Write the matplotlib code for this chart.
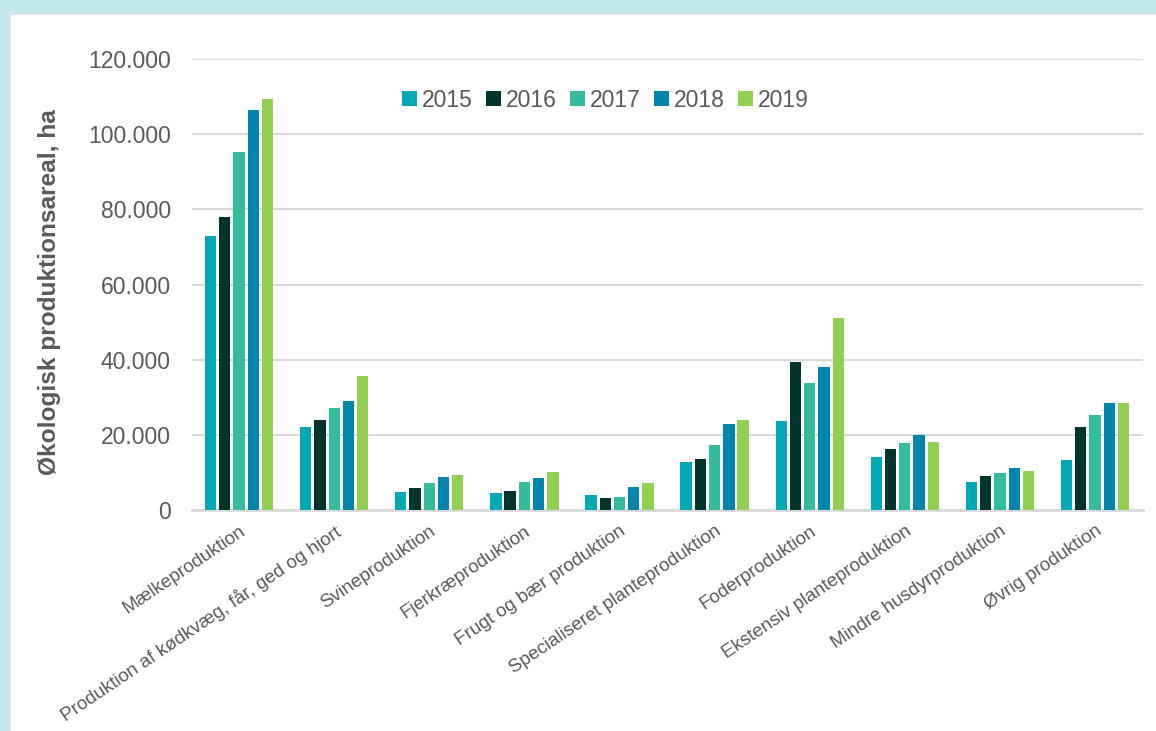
import matplotlib
matplotlib.use("Agg")
import matplotlib.pyplot as plt
from matplotlib.patches import Rectangle
import numpy as np

categories = ["Mælkeproduktion", "Produktion af kødkvæg, får, ged og hjort",
              "Svineproduktion", "Fjerkræproduktion", "Frugt og bær produktion",
              "Specialiseret planteproduktion", "Foderproduktion",
              "Ekstensiv planteproduktion", "Mindre husdyrproduktion", "Øvrig produktion"]
years = ["2015", "2016", "2017", "2018", "2019"]
v2015 = [72900, 22100, 4800, 4600, 4000, 12900, 23700, 14200, 7400, 13300]
v2016 = [77900, 23900, 5900, 5050, 3200, 13600, 39500, 16350, 9000, 22200]
v2017 = [95200, 27100, 7200, 7500, 3550, 17400, 33900, 17900, 9800, 25400]
v2018 = [106300, 29000, 8700, 8500, 6050, 23000, 38000, 19900, 11200, 28500]
v2019 = [109300, 35600, 9300, 10000, 7100, 24000, 51200, 18200, 10400, 28350]
series = [v2015, v2016, v2017, v2018, v2019]
colors = ["#00a9b5", "#00352b", "#34bc9c", "#0086ad", "#92d050"]
yticks = [0, 20000, 40000, 60000, 80000, 100000, 120000]
ytick_labels = ["0", "20.000", "40.000", "60.000", "80.000", "100.000", "120.000"]

plt.rcParams['font.family'] = ['Liberation Sans', 'DejaVu Sans']
txt = "#595959"

fig = plt.figure(figsize=(11.56, 7.31), dpi=100)
fig.patch.set_facecolor("#c1e8ec")
bg = Rectangle((10/1156, -0.01), 1.0, (731-14)/731 + 0.01, transform=fig.transFigure,
               facecolor="white", edgecolor="#e4dde2", linewidth=1.2, zorder=-10)
fig.add_artist(bg)

ax = fig.add_axes([191.5/1156, (731-510)/731, (1142.6-191.5)/1156, (510-59)/731])
ax.set_facecolor("none")

x = np.arange(len(categories))
stride = 0.150
bw = 0.119
for i, (vals, c, yr) in enumerate(zip(series, colors, years)):
    ax.bar(x + (i - 2) * stride, vals, width=bw, color=c, label=yr, zorder=3)

ax.set_xlim(-0.5, len(categories) - 0.5)
ax.set_ylim(0, 120000)
ax.set_yticks(yticks)
ax.set_yticklabels(ytick_labels, fontsize=16.5, color=txt)
ax.yaxis.grid(True, color="#d9d9d9", linewidth=1.5, zorder=0)
ax.set_axisbelow(True)
for s in ["top", "right", "left"]:
    ax.spines[s].set_visible(False)
ax.spines["bottom"].set_color("#d9d9d9")
ax.spines["bottom"].set_linewidth(2)
ax.tick_params(axis="y", length=0, pad=15)
ax.tick_params(axis="x", length=0, pad=9)
ax.set_xticks(x)
ax.set_xticklabels(categories, rotation=34, ha="right", va="top",
                   rotation_mode="anchor", fontsize=13.6, color=txt)
ax.set_ylabel("Økologisk produktionsareal, ha", fontsize=17.6, fontweight="bold",
              color=txt)
ax.yaxis.set_label_coords(-0.137, 0.483)

leg = ax.legend(loc="center", bbox_to_anchor=(0.435, 0.909), ncol=5, frameon=False,
                fontsize=16.5, handlelength=0.65, handleheight=0.65,
                handletextpad=0.2, columnspacing=0.6)
for t in leg.get_texts():
    t.set_color(txt)

fig.savefig("out.png", dpi=100, facecolor=fig.get_facecolor())
